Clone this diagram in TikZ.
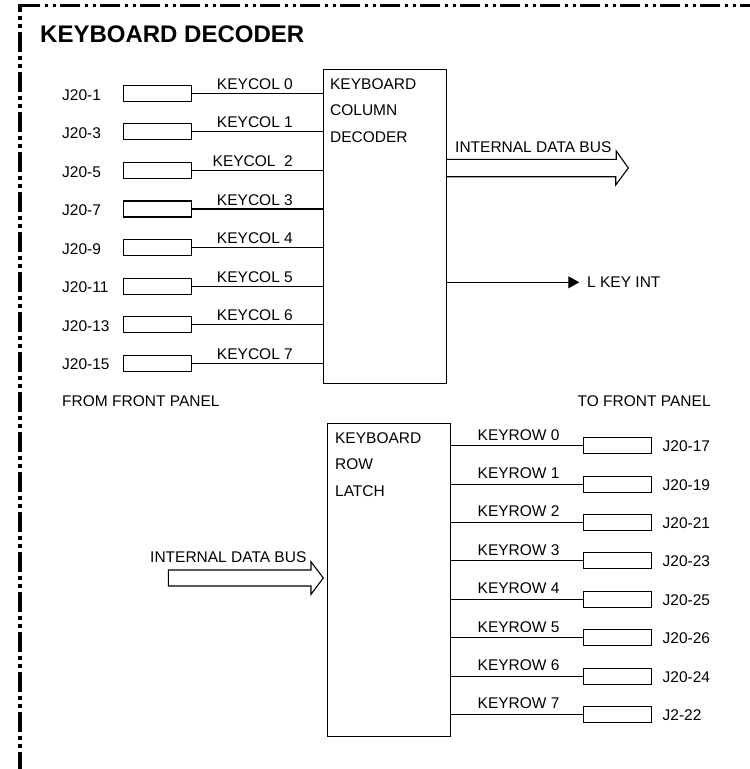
\documentclass[tikz,border=0pt]{standalone}
\usepackage{fontspec}
\setmainfont{Liberation Sans}
\usetikzlibrary{arrows.meta, positioning}
\newcommand{\sigfont}{\fontsize{15.5}{26.5}\selectfont}
\newcommand{\headfont}{\fontsize{24}{28}\selectfont\bfseries}

\begin{document}
\begin{tikzpicture}[
    x=1pt, y=-1pt,
    pinbox/.style={draw, line width=1.1pt, minimum width=68pt, minimum height=16pt, inner sep=0pt},
    blockbox/.style={draw, line width=1.1pt, inner sep=0pt},
    blocktext/.style={font=\sigfont, align=left, inner sep=0pt, anchor=north west},
    plaintext/.style={font=\sigfont, inner sep=0pt, anchor=base west},
    pinname/.style={plaintext, yshift=-6.7pt},
    colname/.style={plaintext, anchor=base east, yshift=4pt},
    rowname/.style={plaintext, yshift=5.7pt},
    outname/.style={plaintext, yshift=-6pt},
    wire/.style={line width=1.1pt},
    busarrow/.style={line width=1.1pt, line join=miter},
    sigarrow/.style={wire, -{Triangle[length=11pt, width=12pt]}},
    framedash/.style={line width=3.6pt, dash pattern=on 20pt off 4.5pt on 3.3pt off 4.7pt on 3.3pt off 4.2pt}
]
\useasboundingbox (0,0) rectangle (750,769);

% FRAME AND TITLE
\draw[framedash] (20,5.5) -- (750,5.5);
\draw[framedash, dash phase=12pt] (20,3.7) -- (20,769);
\node[plaintext, font=\headfont] (title) at (40,42.7) {KEYBOARD DECODER};

% BLOCKS
\node[blockbox, minimum width=123pt, minimum height=313.4pt] (dec) at (385,226.5) {};
\node[blocktext] (dectext) at ([shift={(7,9.1)}]dec.north west) {KEYBOARD\\COLUMN\\DECODER};

\node[blockbox, minimum width=123.3pt, minimum height=313.6pt] (latch) at (388.85,580) {};
\node[blocktext] (latchtext) at ([shift={(8.3,9.7)}]latch.north west) {KEYBOARD\\ROW\\LATCH};

% INPUT PINS (FROM FRONT PANEL)
\node[pinbox] (jc0) at (157.5,93.3) {};
\node[pinbox, below=21.47pt of jc0] (jc1) {};
\node[pinbox, below=21.47pt of jc1] (jc2) {};
\node[pinbox, below=21.47pt of jc2] (jc3) {};
\node[pinbox, below=21.47pt of jc3] (jc4) {};
\node[pinbox, below=21.47pt of jc4] (jc5) {};
\node[pinbox, below=21.47pt of jc5] (jc6) {};
\node[pinbox, below=21.47pt of jc6] (jc7) {};

\node[pinname] (pc0) at (62,0 |- jc0) {J20-1};
\node[pinname] (pc1) at (62,0 |- jc1) {J20-3};
\node[pinname] (pc2) at (62,0 |- jc2) {J20-5};
\node[pinname] (pc3) at (62,0 |- jc3) {J20-7};
\node[pinname] (pc4) at (62,0 |- jc4) {J20-9};
\node[pinname] (pc5) at (62,0 |- jc5) {J20-11};
\node[pinname] (pc6) at (62,0 |- jc6) {J20-13};
\node[pinname] (pc7) at (62,0 |- jc7) {J20-15};

\node[colname] (kc0) at (293,0 |- jc0) {KEYCOL 0};
\node[colname] (kc1) at (293,0 |- jc1) {KEYCOL 1};
\node[colname] (kc2) at (293,0 |- jc2) {KEYCOL~~2};
\node[colname] (kc3) at (293,0 |- jc3) {KEYCOL 3};
\node[colname] (kc4) at (293,0 |- jc4) {KEYCOL 4};
\node[colname] (kc5) at (293,0 |- jc5) {KEYCOL 5};
\node[colname] (kc6) at (293,0 |- jc6) {KEYCOL 6};
\node[colname] (kc7) at (293,0 |- jc7) {KEYCOL 7};

\draw[wire] (jc0.east) -- (jc0.east -| dec.west);
\draw[wire] (jc1.east) -- (jc1.east -| dec.west);
\draw[wire] (jc2.east) -- (jc2.east -| dec.west);
\draw[wire] (jc3.east) -- (jc3.east -| dec.west);
\draw[wire] (jc4.east) -- (jc4.east -| dec.west);
\draw[wire] (jc5.east) -- (jc5.east -| dec.west);
\draw[wire] (jc6.east) -- (jc6.east -| dec.west);
\draw[wire] (jc7.east) -- (jc7.east -| dec.west);

\node[plaintext] (frompanel) at (62,406.5) {FROM FRONT PANEL};

% DECODER OUTPUTS
\coordinate (busout) at (628.3,168);
\draw[busarrow] (dec.east |- busout) ++(0,-8.7) -- ++(169.2,0) -- ++(0,-8.3) -- (busout)
    -- ++(-12.6,17) -- ++(0,-8.3) -- ++(-169.2,0);
\node[plaintext] (busouttext) at (455,152.3) {INTERNAL DATA BUS};

\coordinate (keyint) at (579.3,282.3);
\draw[sigarrow] (dec.east |- keyint) -- (keyint);
\node[plaintext, anchor=west] (keyinttext) at (587,282.3) {L KEY INT};

% LATCH INPUT
\coordinate (busin) at (323.3,578);
\draw[busarrow] (busin) ++(-155,-8) -- ++(142.7,0) -- ++(0,-8.3) -- (busin)
    -- ++(-12.3,16.3) -- ++(0,-8.3) -- ++(-142.7,0) -- cycle;
\node[plaintext] (busintext) at (150,562.3) {INTERNAL DATA BUS};

% OUTPUT PINS (TO FRONT PANEL)
\node[plaintext] (topanel) at (577.5,406.3) {TO FRONT PANEL};

\node[pinbox] (jr0) at (617.7,445.7) {};
\node[pinbox, below=21.3pt of jr0] (jr1) {};
\node[pinbox, below=21.3pt of jr1] (jr2) {};
\node[pinbox, below=21.3pt of jr2] (jr3) {};
\node[pinbox, below=21.3pt of jr3] (jr4) {};
\node[pinbox, below=21.3pt of jr4] (jr5) {};
\node[pinbox, below=21.3pt of jr5] (jr6) {};
\node[pinbox, below=21.3pt of jr6] (jr7) {};

\node[rowname] (kr0) at (477.5,0 |- jr0) {KEYROW 0};
\node[rowname] (kr1) at (477.5,0 |- jr1) {KEYROW 1};
\node[rowname] (kr2) at (477.5,0 |- jr2) {KEYROW 2};
\node[rowname] (kr3) at (477.5,0 |- jr3) {KEYROW 3};
\node[rowname] (kr4) at (477.5,0 |- jr4) {KEYROW 4};
\node[rowname] (kr5) at (477.5,0 |- jr5) {KEYROW 5};
\node[rowname] (kr6) at (477.5,0 |- jr6) {KEYROW 6};
\node[rowname] (kr7) at (477.5,0 |- jr7) {KEYROW 7};

\node[outname] (pr0) at (662.5,0 |- jr0) {J20-17};
\node[outname] (pr1) at (662.5,0 |- jr1) {J20-19};
\node[outname] (pr2) at (662.5,0 |- jr2) {J20-21};
\node[outname] (pr3) at (662.5,0 |- jr3) {J20-23};
\node[outname] (pr4) at (662.5,0 |- jr4) {J20-25};
\node[outname] (pr5) at (662.5,0 |- jr5) {J20-26};
\node[outname] (pr6) at (662.5,0 |- jr6) {J20-24};
\node[outname] (pr7) at (662.5,0 |- jr7) {J2-22};

\draw[wire] (latch.east |- jr0) -- (jr0.west);
\draw[wire] (latch.east |- jr1) -- (jr1.west);
\draw[wire] (latch.east |- jr2) -- (jr2.west);
\draw[wire] (latch.east |- jr3) -- (jr3.west);
\draw[wire] (latch.east |- jr4) -- (jr4.west);
\draw[wire] (latch.east |- jr5) -- (jr5.west);
\draw[wire] (latch.east |- jr6) -- (jr6.west);
\draw[wire] (latch.east |- jr7) -- (jr7.west);

\end{tikzpicture}
\end{document}
